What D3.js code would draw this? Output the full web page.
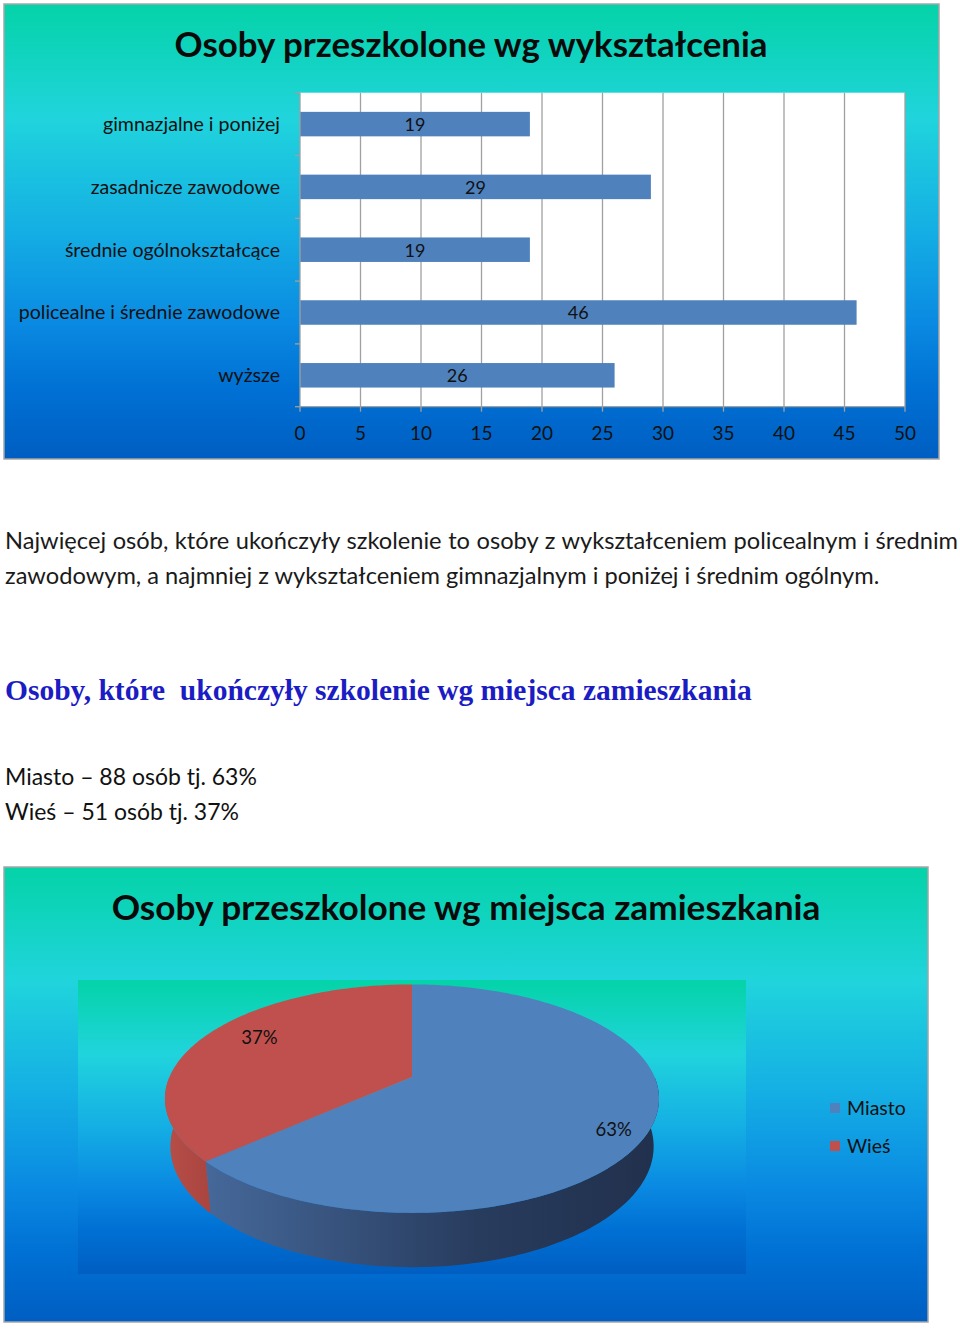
<!DOCTYPE html>
<html><head><meta charset="utf-8">
<script src="https://cdn.jsdelivr.net/npm/d3@7"></script>
<style>body{margin:0;background:#fff} text{font-family:Lato,"Open Sans",sans-serif}</style>
</head><body>
<svg id="c" width="960" height="1329"></svg>
<script>
// ---------- data ----------
const eduCategories = ["gimnazjalne i poniżej","zasadnicze zawodowe","średnie ogólnokształcące","policealne i średnie zawodowe","wyższe"];
const eduValues = [19, 29, 19, 46, 26];
const xTickValues = [0,5,10,15,20,25,30,35,40,45,50];
const placeCategories = ["Miasto","Wieś"];
const placeCounts = [88, 51];
const chart1Title = "Osoby przeszkolone wg wykształcenia";
const chart2Title = "Osoby przeszkolone wg miejsca zamieszkania";
const paragraphLines = [
  "Najwięcej osób, które ukończyły szkolenie to osoby z wykształceniem policealnym i średnim",
  "zawodowym, a najmniej z wykształceniem gimnazjalnym i poniżej i średnim ogólnym."
];
const sectionHeading = "Osoby, które  ukończyły szkolenie wg miejsca zamieszkania";

// ---------- helpers ----------
const svg = d3.select("#c");
svg.append("rect").attr("width",960).attr("height",1329).attr("fill","#fff");
const defs = svg.append("defs");
const bg = defs.append("linearGradient").attr("id","bg").attr("x1",0).attr("y1",0).attr("x2",0).attr("y2",1);
[[0,"#04d3a8"],[0.25,"#20d4dc"],[0.5,"#14aee4"],[0.7,"#0a8ae2"],[0.85,"#0070d4"],[1,"#005ec2"]]
  .forEach(([o,c]) => bg.append("stop").attr("offset",o).attr("stop-color",c));
function fit(sel, w){
  const fs = parseFloat(sel.attr("font-size"));
  const cur = sel.node().getComputedTextLength();
  sel.attr("font-size", fs * w / cur);
  return sel;
}
const pct = d3.format(".0%");
const total = d3.sum(placeCounts);

// ---------- chart 1 ----------
svg.append("rect").attr("x",4).attr("y",4).attr("width",935).attr("height",455)
  .attr("fill","url(#bg)").attr("stroke","#a6a6a6").attr("stroke-width",1.5);
fit(svg.append("text").attr("x",471).attr("y",57).attr("text-anchor","middle")
  .attr("font-size",32).attr("font-weight","bold").attr("fill","#0a0a0a").text(chart1Title), 593);

const x = d3.scaleLinear().domain([0,50]).range([300,905]);
const y = d3.scaleBand().domain(eduCategories).range([92.7,406.7]).paddingInner(0.61).paddingOuter(0.305);
const [py0, py1] = y.range();
svg.append("rect").attr("x",x(0)).attr("y",py0).attr("width",x(50)-x(0)).attr("height",py1-py0).attr("fill","#fff");
svg.append("g").selectAll("line").data(xTickValues.filter(d=>d>0)).join("line")
  .attr("x1",d=>x(d)).attr("x2",d=>x(d)).attr("y1",py0).attr("y2",py1)
  .attr("stroke","#a0a0a0").attr("stroke-width",1.3);
svg.append("g").selectAll("rect").data(eduValues).join("rect")
  .attr("x",x(0)).attr("y",(d,i)=>y(eduCategories[i])).attr("width",d=>x(d)-x(0))
  .attr("height",y.bandwidth()).attr("fill","#4f81bd");
// axes
const ax = svg.append("g").attr("stroke","#a0a0a0").attr("stroke-width",1.3);
ax.append("line").attr("x1",x(0)).attr("x2",x(0)).attr("y1",py0).attr("y2",py1);
ax.append("line").attr("x1",x(0)).attr("x2",x(50)).attr("y1",py1).attr("y2",py1);
ax.selectAll(".lt").data(d3.range(eduCategories.length+1)).join("line")
  .attr("x1",x(0)-5).attr("x2",x(0)).attr("y1",i=>py0+i*y.step()).attr("y2",i=>py0+i*y.step());
ax.selectAll(".bt").data(xTickValues).join("line")
  .attr("x1",d=>x(d)).attr("x2",d=>x(d)).attr("y1",py1).attr("y2",py1+5);
svg.append("g").selectAll("text").data(xTickValues).join("text")
  .attr("x",d=>x(d)).attr("y",440).attr("text-anchor","middle").attr("font-size",19)
  .attr("fill","#111").text(d=>d);
svg.append("g").selectAll("text").data(eduCategories).join("text")
  .attr("x",280).attr("y",d=>y(d)+y.bandwidth()/2).attr("dy","0.35em")
  .attr("text-anchor","end").attr("font-size",19.6).attr("fill","#111").text(d=>d);
svg.append("g").selectAll("text").data(eduValues).join("text")
  .attr("x",d=>(x(0)+x(d))/2).attr("y",(d,i)=>y(eduCategories[i])+y.bandwidth()/2).attr("dy","0.38em")
  .attr("text-anchor","middle").attr("font-size",18).attr("fill","#111").text(d=>d);

// ---------- text ----------
const l2 = fit(svg.append("text").attr("x",5).attr("y",584).attr("font-size",21).attr("fill","#1a1a1a").text(paragraphLines[1]), 875);
const fsP = l2.attr("font-size");
const l1 = svg.append("text").attr("x",5).attr("y",549).attr("font-size",fsP).attr("fill","#1a1a1a").text(paragraphLines[0]);
const w1 = l1.node().getComputedTextLength();
const nSp = paragraphLines[0].split(" ").length - 1;
l1.attr("word-spacing", (953 - w1)/nSp);

fit(svg.append("text").attr("x",5).attr("y",700).attr("font-size",28).attr("font-weight","bold")
  .style("font-family","'Liberation Serif','Times New Roman',serif").style("white-space","pre")
  .attr("fill","#1c1cc4").text(sectionHeading), 747);

const summary = placeCategories.map((c,i)=>`${c} – ${placeCounts[i]} osób tj. ${pct(placeCounts[i]/total)}`);
const s0 = fit(svg.append("text").attr("x",5).attr("y",785).attr("font-size",22).attr("fill","#111").text(summary[0]), 252);
svg.append("text").attr("x",5).attr("y",820).attr("font-size",s0.attr("font-size")).attr("fill","#111").text(summary[1]);

// ---------- chart 2 ----------
svg.append("rect").attr("x",4).attr("y",867).attr("width",924).attr("height",455)
  .attr("fill","url(#bg)").attr("stroke","#a6a6a6").attr("stroke-width",1.5);
fit(svg.append("text").attr("x",466).attr("y",920).attr("text-anchor","middle")
  .attr("font-size",34).attr("font-weight","bold").attr("fill","#0a0a0a").text(chart2Title), 709);
svg.append("rect").attr("x",78).attr("y",980).attr("width",668).attr("height",294).attr("fill","url(#bg)");

const placeColors = ["#4f81bd","#c0504d"];
const pie = d3.pie().sort(null)(placeCounts);
// perspective projection of a tilted disc
const P = {cx:412, cy:1077, f:1140, D:4.70, e:27*Math.PI/180, H:0.2227};
const se = Math.sin(P.e), ce = Math.cos(P.e);
function proj(t, r, Y){
  const X = r*Math.sin(t), Z = -r*Math.cos(t);
  const sy = Z*se - Y*ce, depth = P.D - (Z*ce + Y*se);
  return [P.cx + P.f*X/depth, P.cy + P.f*sy/depth];
}
function arcPts(a, b, r, Y){
  const n = Math.max(2, Math.ceil(Math.abs(b-a)/(Math.PI/180)));
  return d3.range(n+1).map(i => proj(a + (b-a)*i/n, r, Y));
}
const line = d3.line();
// wall gradients
const gB = defs.append("linearGradient").attr("id","wallB").attr("gradientUnits","userSpaceOnUse")
  .attr("x1",200).attr("x2",660).attr("y1",0).attr("y2",0);
[[0,"#46699b"],[0.6,"#283c5e"],[1,"#21304c"]].forEach(([o,c])=>gB.append("stop").attr("offset",o).attr("stop-color",c));
const gR = defs.append("linearGradient").attr("id","wallR").attr("gradientUnits","userSpaceOnUse")
  .attr("x1",160).attr("x2",215).attr("y1",0).attr("y2",0);
[[0,"#b9504a"],[1,"#a8433d"]].forEach(([o,c])=>gR.append("stop").attr("offset",o).attr("stop-color",c));
const wallFill = ["url(#wallB)","url(#wallR)"];
const gPie = svg.append("g");
pie.forEach((s,i)=>{
  const a = Math.max(s.startAngle, Math.PI/2), b = Math.min(s.endAngle, 3*Math.PI/2);
  if (a < b){
    const pts = arcPts(a,b,1,0).concat(arcPts(b,a,1,-P.H));
    gPie.append("path").attr("d", line(pts)+"Z").attr("fill",wallFill[i]);
  }
});
pie.forEach((s,i)=>{
  const pts = [proj(0,0,0)].concat(arcPts(s.startAngle, s.endAngle, 1, 0));
  gPie.append("path").attr("d", line(pts)+"Z").attr("fill",placeColors[i]);
});
const labelR = [0.88, 0.78], labelShift = 6*Math.PI/180;
pie.forEach((s,i)=>{
  const [lx,ly] = proj((s.startAngle+s.endAngle)/2 + labelShift, labelR[i], 0);
  svg.append("text").attr("x",lx).attr("y",ly).attr("dy","0.35em").attr("text-anchor","middle")
    .attr("font-size",18.5).attr("fill","#111").text(pct(s.value/total));
});
// legend
const lg = svg.append("g").selectAll("g").data(placeCategories).join("g")
  .attr("transform",(d,i)=>`translate(830,${1108+i*38})`);
lg.append("rect").attr("x",0).attr("y",-5).attr("width",10).attr("height",10).attr("fill",(d,i)=>placeColors[i]);
lg.append("text").attr("x",17).attr("dy","0.35em").attr("font-size",19.5).attr("fill","#111").text(d=>d);
</script>
</body></html>
